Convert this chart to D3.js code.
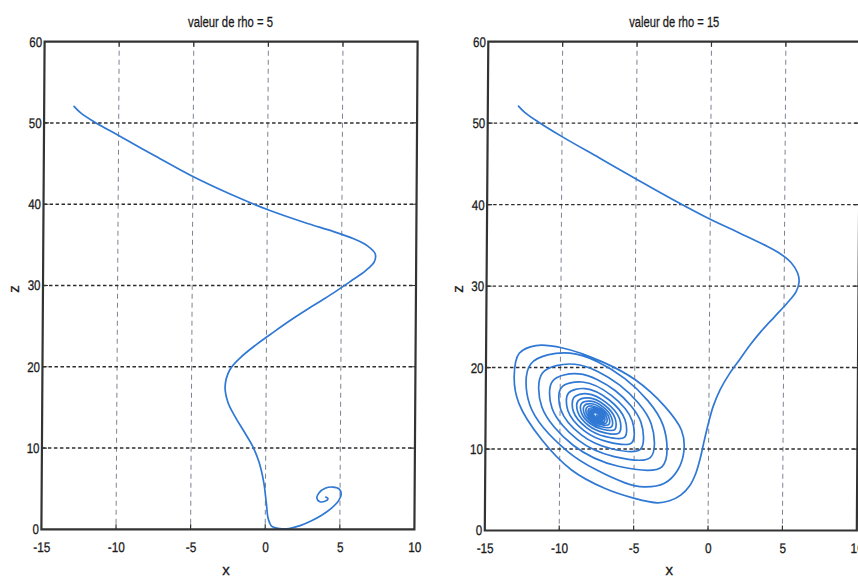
<!DOCTYPE html>
<html>
<head>
<meta charset="utf-8">
<script src="https://cdn.jsdelivr.net/npm/d3@7"></script>
<style>
  html, body { margin: 0; padding: 0; background: #fff; }
  svg { display: block; }
</style>
</head>
<body>
<svg id="chart" width="858" height="580"></svg>
<script>
// Axis ticks shared by both panels
const xTicks = [-15, -10, -5, 0, 5, 10];
const zTicks = [0, 10, 20, 30, 40, 50, 60];
const titles = ["valeur de rho = 5", "valeur de rho = 15"];
const xLabel = "x";
const zLabel = "z";

// Trajectory (x, z) for rho = 5
const trajRho5 = [
  [-13.0, 52.05], [-12.55, 51.25], [-11.65, 50.15], [-10.0, 48.45], [-7.5, 45.9],
  [-5.0, 43.4], [-2.5, 41.25], [0.0, 39.35], [2.5, 37.75], [4.5, 36.6],
  [5.8, 35.75], [6.75, 34.85], [7.25, 33.9], [7.2, 32.95], [6.6, 31.8],
  [5.6, 30.5], [4.4, 29.0], [3.1, 27.5], [1.75, 25.9], [0.5, 24.3],
  [-0.7, 22.7], [-1.75, 21.1], [-2.45, 19.6], [-2.75, 17.6], [-2.55, 15.6],
  [-2.05, 13.8], [-1.45, 12.0], [-0.9, 10.3], [-0.45, 8.3], [-0.12, 5.8],
  [0.06, 3.3], [0.2, 1.3], [0.45, 0.35], [1.0, 0.08], [1.6, 0.1],
  [2.34, 0.45], [3.1, 1.05], [3.75, 1.7], [4.4, 2.55], [4.9, 3.5],
  [5.08, 4.3], [4.95, 4.95], [4.5, 5.2], [4.0, 5.05], [3.6, 4.5],
  [3.45, 3.85], [3.65, 3.4], [4.0, 3.45], [4.2, 3.75], [4.05, 3.97]
];

// Trajectory (x, z) for rho = 15: descent, then the spiral into the focus
const trajRho15 = [
  [-12.94, 52.1], [-12.5, 51.3], [-11.6, 50.15], [-10.0, 48.35], [-7.5, 45.75],
  [-5.0, 43.15], [-2.5, 40.6], [0.0, 38.2], [2.0, 36.5], [3.6, 35.1],
  [4.7, 34.0], [5.45, 32.9], [5.9, 31.6], [6.0, 30.5], [5.8, 29.3],
  [5.2, 27.9], [4.35, 26.2], [3.5, 24.5], [2.75, 22.8], [2.05, 21.0],
  [1.35, 19.2], [0.75, 17.3], [0.3, 15.3], [-0.02, 13.2], [-0.3, 11.0],
  [-0.55, 8.9], [-0.85, 7.0], [-1.25, 5.5], [-1.85, 4.35], [-2.6, 3.65],
  [-3.4, 3.4], [-4.96, 3.95], [-6.97, 5.18], [-9.2, 7.43], [-11.2, 11.1],
  [-12.77, 15.6], [-13.1, 18.9], [-12.77, 21.75], [-11.65, 22.7], [-9.86, 22.4],
  [-7.18, 20.7], [-4.96, 18.5], [-2.95, 15.2], [-1.83, 12.3], [-1.65, 9.88],
  [-2.06, 7.43], [-2.95, 5.8], [-4.3, 5.35],
  // loop 2
  [-5.6, 5.85], [-9.44, 9.66], [-12.04, 15.43], [-11.99, 20.45],
  [-9.36, 21.77], [-5.66, 18.64], [-3.06, 12.87], [-3.11, 7.85],
  // loop 3
  [-6.06, 7.89], [-9.10, 10.46], [-11.23, 15.20], [-11.20, 19.33],
  [-9.04, 20.41], [-6.00, 17.84], [-3.87, 13.10], [-3.90, 8.97],
  // loop 4
  [-6.34, 9.07], [-8.81, 11.15], [-10.54, 15.00], [-10.51, 18.35],
  [-8.76, 19.23], [-6.29, 17.15], [-4.56, 13.30], [-4.59, 9.95],
  // loop 5
  [-6.58, 10.07], [-8.56, 11.74], [-9.95, 14.83], [-9.93, 17.53],
  [-8.52, 18.23], [-6.54, 16.56], [-5.15, 13.47], [-5.17, 10.77],
  // loop 6
  [-6.77, 10.88], [-8.36, 12.22], [-9.47, 14.70], [-9.45, 16.85],
  [-8.33, 17.42], [-6.74, 16.08], [-5.63, 13.60], [-5.65, 11.45],
  // loop 7
  [-6.92, 11.52], [-8.20, 12.60], [-9.10, 14.59], [-9.08, 16.33],
  [-8.18, 16.78], [-6.90, 15.70], [-6.00, 13.71], [-6.02, 11.97],
  // loop 8
  [-7.04, 12.02], [-8.08, 12.89], [-8.80, 14.51], [-8.79, 15.91],
  [-8.06, 16.28], [-7.02, 15.41], [-6.30, 13.79], [-6.31, 12.39],
  // loop 9
  [-7.14, 12.43], [-7.98, 13.13], [-8.56, 14.44], [-8.56, 15.58],
  [-7.96, 15.87], [-7.12, 15.17], [-6.54, 13.86], [-6.54, 12.72],
  // loop 10
  [-7.22, 12.74], [-7.90, 13.32], [-8.38, 14.39], [-8.37, 15.31],
  [-7.88, 15.56], [-7.20, 14.98], [-6.72, 13.91], [-6.73, 12.99],
  // loop 11
  [-7.28, 13.02], [-7.83, 13.48], [-8.22, 14.34], [-8.21, 15.09],
  [-7.82, 15.28], [-7.27, 14.82], [-6.88, 13.96], [-6.89, 13.21],
  // loop 12
  [-7.33, 13.24], [-7.78, 13.61], [-8.08, 14.30], [-8.08, 14.90],
  [-7.77, 15.06], [-7.32, 14.69], [-7.02, 14.00], [-7.02, 13.40],
  // loop 13
  [-7.38, 13.42], [-7.73, 13.72], [-7.98, 14.27], [-7.97, 14.75],
  [-7.72, 14.88], [-7.37, 14.58], [-7.12, 14.03], [-7.13, 13.55],
  // loop 14
  [-7.41, 13.57], [-7.69, 13.81], [-7.89, 14.25], [-7.89, 14.63],
  [-7.69, 14.73], [-7.41, 14.49], [-7.21, 14.05], [-7.21, 13.67],
  // loop 15
  [-7.44, 13.70], [-7.66, 13.88], [-7.82, 14.23], [-7.81, 14.53],
  [-7.66, 14.60], [-7.44, 14.42], [-7.28, 14.07], [-7.29, 13.77],
  // loop 16
  [-7.47, 13.83], [-7.63, 13.96], [-7.74, 14.20], [-7.74, 14.41],
  [-7.63, 14.47], [-7.47, 14.34], [-7.36, 14.10], [-7.36, 13.89],
  [-7.55, 14.15]
];

// Panel layout (plot box top-left corner, size, and the slight lean of the scanned page)
const panels = [
  { title: titles[0], data: trajRho5, left: 44.6, top: 41.7, width: 373, height: 487.6, lean: 3.2,
    titleX: 230.5, titleW: 85, xLabelX: 226, zLabelX: 18.5, zLabelY: 289 },
  { title: titles[1], data: trajRho15, left: 488.3, top: 41.7, width: 372, height: 488.8, lean: 3.5,
    titleX: 674.3, titleW: 90, xLabelX: 669.3, zLabelX: 463, zLabelY: 289 }
];

const font = "'Liberation Sans','Arial',sans-serif";
const lineColor = "#2f78d4";
const frameColor = "#333";
const textColor = "#1a1a1a";
const fmt = d => String(d);

const svg = d3.select("#chart");

// narrow a text horizontally, keeping its anchor
function condense(sel, k) {
  sel.each(function () {
    const w = this.getComputedTextLength();
    d3.select(this).attr("textLength", w * k).attr("lengthAdjust", "spacingAndGlyphs");
  });
}

// give printed-looking text a little more weight
function inked(sel) {
  sel.attr("fill", textColor).attr("stroke", textColor).attr("stroke-width", 0.3);
}

panels.forEach(p => {
  const x = d3.scaleLinear().domain([xTicks[0], xTicks[xTicks.length - 1]]).range([0, p.width]);
  const y = d3.scaleLinear().domain([zTicks[0], zTicks[zTicks.length - 1]]).range([p.height, 0]);
  const skewDeg = -Math.atan(p.lean / p.height) * 180 / Math.PI;

  const g = svg.append("g")
    .attr("transform", `translate(${p.left},${p.top}) skewX(${skewDeg})`);

  // vertical grid lines (light, dashed)
  g.append("g").selectAll("line")
    .data(xTicks.slice(1, -1))
    .join("line")
    .attr("x1", d => x(d)).attr("x2", d => x(d))
    .attr("y1", 0).attr("y2", p.height)
    .attr("stroke", "#7b8292")
    .attr("stroke-width", 1)
    .attr("stroke-dasharray", "5,4");

  // horizontal grid lines (dark, dashed)
  g.append("g").selectAll("line")
    .data(zTicks.slice(1, -1))
    .join("line")
    .attr("x1", 0).attr("x2", p.width)
    .attr("y1", d => y(d)).attr("y2", d => y(d))
    .attr("stroke", "#2e2e2e")
    .attr("stroke-width", 1.4)
    .attr("stroke-dasharray", "3.5,2.5");

  // trajectory
  const line = d3.line()
    .x(d => x(d[0]))
    .y(d => y(d[1]))
    .curve(d3.curveCatmullRom.alpha(0.5));

  g.append("path")
    .datum(p.data)
    .attr("d", line)
    .attr("fill", "none")
    .attr("stroke", lineColor)
    .attr("stroke-width", 1.7)
    .attr("stroke-linejoin", "round")
    .attr("stroke-linecap", "round");

  // inner tick marks on all four sides
  const tk = 5;
  const ticks = g.append("g").attr("stroke", frameColor).attr("stroke-width", 1.2);
  xTicks.slice(1, -1).forEach(d => {
    ticks.append("line").attr("x1", x(d)).attr("x2", x(d)).attr("y1", 0).attr("y2", tk);
    ticks.append("line").attr("x1", x(d)).attr("x2", x(d)).attr("y1", p.height).attr("y2", p.height - tk);
  });
  zTicks.slice(1, -1).forEach(d => {
    ticks.append("line").attr("x1", 0).attr("x2", tk).attr("y1", y(d)).attr("y2", y(d));
    ticks.append("line").attr("x1", p.width).attr("x2", p.width - tk).attr("y1", y(d)).attr("y2", y(d));
  });

  // frame
  g.append("rect")
    .attr("width", p.width).attr("height", p.height)
    .attr("fill", "none")
    .attr("stroke", frameColor)
    .attr("stroke-width", 2.2);

  // x tick labels
  const ax = g.append("g")
    .attr("transform", `translate(0,${p.height})`)
    .call(d3.axisBottom(x).tickValues(xTicks).tickFormat(fmt).tickSize(0).tickPadding(12.3));
  ax.select(".domain").remove();
  ax.selectAll("text")
    .attr("font-family", font).attr("font-size", 14)
    .call(inked)
    .call(condense, 0.84);

  // z tick labels
  const az = g.append("g")
    .call(d3.axisLeft(y).tickValues(zTicks).tickFormat(fmt).tickSize(0).tickPadding(2.5));
  az.select(".domain").remove();
  az.selectAll("text")
    .attr("font-family", font).attr("font-size", 14)
    .call(inked)
    .call(condense, 0.82);

  // title
  svg.append("text")
    .attr("x", p.titleX).attr("y", 27)
    .attr("text-anchor", "middle")
    .attr("font-family", font).attr("font-size", 15.5)
    .attr("textLength", p.titleW)
    .attr("lengthAdjust", "spacingAndGlyphs")
    .call(inked)
    .text(p.title);

  // axis names
  svg.append("text")
    .attr("x", p.xLabelX).attr("y", 575)
    .attr("text-anchor", "middle")
    .attr("font-family", font).attr("font-size", 15)
    .call(inked)
    .text(xLabel);

  svg.append("text")
    .attr("transform", `translate(${p.zLabelX},${p.zLabelY}) rotate(-90)`)
    .attr("text-anchor", "middle")
    .attr("font-family", font).attr("font-size", 15)
    .call(inked)
    .text(zLabel);
});
</script>
</body>
</html>
